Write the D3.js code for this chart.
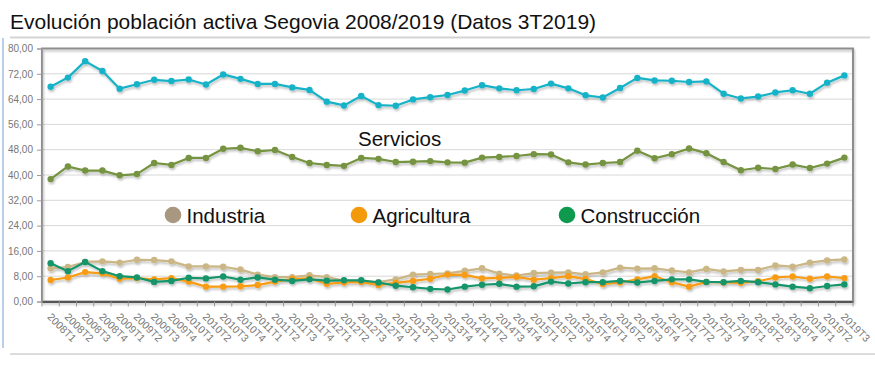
<!DOCTYPE html>
<html>
<head>
<meta charset="utf-8">
<script src="https://cdn.jsdelivr.net/npm/d3@7"></script>
<style>
  body { margin: 0; background: #fff; }
  svg { display: block; font-family: "Liberation Sans", Arial, sans-serif; }
</style>
</head>
<body>
<div id="chart"></div>
<script>
// años y trimestres (2008T1 .. 2019T3)
const years = d3.range(2008, 2020);
const quarterNames = ["T1", "T2", "T3", "T4"];
const quarters = years.flatMap(y => quarterNames.map(t => y + t)).slice(0, 47);

// valores (miles de personas)
const total = [67.9, 70.8, 76.0, 72.9, 67.3, 68.7, 70.1, 69.7, 70.2, 68.6,
  71.8, 70.4, 68.8, 68.8, 67.7, 66.9, 63.2, 62.0, 65.0, 62.1,
  61.9, 63.9, 64.6, 65.3, 66.7, 68.4, 67.4, 66.8, 67.2, 68.9,
  67.4, 65.2, 64.5, 67.5, 70.7, 69.9, 69.8, 69.4, 69.6, 65.7,
  64.2, 64.8, 66.1, 66.8, 65.7, 69.2, 71.5];
const servicios = [38.7, 42.7, 41.4, 41.4, 39.9, 40.3, 43.8, 43.2, 45.4, 45.4,
  48.3, 48.6, 47.5, 47.9, 45.7, 43.8, 43.2, 42.9, 45.4, 45.1,
  44.1, 44.2, 44.4, 44.0, 43.9, 45.5, 45.7, 46.0, 46.6, 46.5,
  44.0, 43.3, 43.8, 44.1, 47.7, 45.3, 46.6, 48.4, 46.9, 44.1,
  41.5, 42.3, 41.9, 43.3, 42.2, 43.6, 45.5];
const industria = [10.5, 10.9, 12.5, 12.7, 12.3, 13.2, 13.1, 12.7, 11.1, 11.1,
  11.0, 10.1, 8.5, 7.7, 7.7, 8.3, 7.7, 6.6, 6.5, 6.1,
  7.0, 8.5, 8.7, 8.9, 9.7, 10.5, 8.8, 8.2, 9.0, 9.1,
  9.2, 8.6, 9.2, 10.7, 10.4, 10.5, 9.8, 9.2, 10.3, 9.5,
  10.0, 10.0, 11.4, 11.0, 12.3, 13.0, 13.3];
const agricultura = [6.8, 7.6, 9.3, 8.9, 7.2, 7.4, 7.0, 7.4, 6.3, 4.7,
  4.7, 4.8, 5.2, 6.3, 7.1, 7.3, 5.6, 6.0, 6.2, 5.2,
  5.9, 6.5, 7.2, 8.5, 8.4, 7.3, 7.5, 7.8, 6.9, 7.4,
  8.0, 7.1, 5.5, 6.0, 7.0, 8.0, 6.1, 4.7, 6.2, 6.0,
  5.9, 6.4, 7.6, 7.9, 7.2, 7.9, 7.4];
const construccion = [12.1, 9.6, 12.5, 9.6, 8.0, 7.6, 6.2, 6.5, 7.5, 7.3,
  7.9, 6.9, 7.6, 6.9, 6.5, 7.0, 6.6, 6.7, 6.7, 6.0,
  5.0, 4.5, 4.0, 3.8, 4.7, 5.3, 5.6, 4.7, 4.8, 6.3,
  5.7, 6.1, 6.1, 6.5, 6.0, 6.5, 7.0, 7.0, 6.2, 6.1,
  6.5, 6.1, 5.4, 4.7, 4.2, 4.9, 5.4];

const yTicks = d3.range(0, 81, 8);

const series = [
  { name: "Total", values: total, color: "#17b3c8" },
  { name: "Servicios", values: servicios, color: "#74933f" },
  { name: "Industria", values: industria, color: "#cbb686" },
  { name: "Agricultura", values: agricultura, color: "#f89c14" },
  { name: "Construcción", values: construccion, color: "#15946a" }
];

const legend = [
  { name: "Industria", color: "#a89880", x: 173, y: 215 },
  { name: "Agricultura", color: "#f39a0a", x: 359, y: 215 },
  { name: "Construcción", color: "#0d9a4e", x: 567, y: 215 }
];

const width = 875, height = 371;
const plotLeft = 42, plotRight = 853, plotTop = 48.5, plotBottom = 301.5;

const svg = d3.select("#chart").append("svg")
  .attr("width", width)
  .attr("height", height);

const defs = svg.append("defs");
defs.append("filter").attr("id", "shadow")
  .attr("x", "-5%").attr("y", "-20%").attr("width", "110%").attr("height", "140%")
  .append("feDropShadow")
  .attr("dx", 1).attr("dy", 2).attr("stdDeviation", 1)
  .attr("flood-color", "#000").attr("flood-opacity", 0.25);

// marco de la página
svg.append("rect").attr("x", 2).attr("y", 38).attr("width", 2).attr("height", 310)
  .attr("fill", "#b9cfe9");
svg.append("line").attr("x1", 10).attr("x2", 870).attr("y1", 37.5).attr("y2", 37.5)
  .attr("stroke", "#d4d4d4").attr("stroke-width", 2);
svg.append("line").attr("x1", 10).attr("x2", 875).attr("y1", 354).attr("y2", 354)
  .attr("stroke", "#dcdcdc").attr("stroke-width", 2);

svg.append("text")
  .attr("x", 10).attr("y", 29)
  .style("font-size", "21px")
  .style("fill", "#111")
  .text("Evolución población activa Segovia 2008/2019 (Datos 3T2019)");

const x = d3.scaleBand().domain(quarters).range([plotLeft, plotRight]);
const y = d3.scaleLinear().domain([0, 80]).range([plotBottom, plotTop]);
const cx = q => x(q) + x.bandwidth() / 2;

// rejilla
svg.append("g").selectAll("line")
  .data(yTicks.filter(d => d > 0 && d < 80))
  .join("line")
  .attr("x1", plotLeft).attr("x2", plotRight)
  .attr("y1", d => y(d)).attr("y2", d => y(d))
  .attr("stroke", "#d8d8d8");

// caja del área de trazado
svg.append("rect")
  .attr("x", plotLeft).attr("y", plotTop)
  .attr("width", plotRight - plotLeft).attr("height", plotBottom - plotTop)
  .attr("fill", "none")
  .attr("stroke", "#8e8e8e").attr("stroke-width", 2)
  .attr("filter", "url(#shadow)");

// eje Y
const yAxis = svg.append("g")
  .attr("transform", `translate(${plotLeft},0)`)
  .call(d3.axisLeft(y).tickValues(yTicks).tickSize(5).tickPadding(4)
    .tickFormat(d => d.toFixed(2).replace(".", ",")));
yAxis.select(".domain").attr("stroke", "#9a9a9a");
yAxis.selectAll(".tick line").attr("stroke", "#9a9a9a");
yAxis.selectAll("text").style("font-size", "10px").style("fill", "#777")
  .style("font-family", "'Liberation Sans', Arial, sans-serif");

// eje X
const xAxis = svg.append("g")
  .attr("transform", `translate(0,${plotBottom})`)
  .call(d3.axisBottom(x).tickSize(0).tickPadding(0));
xAxis.select(".domain").attr("stroke", "#555").attr("stroke-width", 2);
xAxis.selectAll(".tick text")
  .attr("text-anchor", "start")
  .attr("dy", null)
  .attr("y", 0)
  .attr("transform", "translate(-4,16) rotate(45)")
  .style("font-size", "10.5px").style("fill", "#777")
  .style("font-family", "'Liberation Sans', Arial, sans-serif");
svg.append("g").selectAll("line")
  .data(quarters.map(q => x(q)).concat([plotRight]))
  .join("line")
  .attr("x1", d => d).attr("x2", d => d)
  .attr("y1", plotBottom).attr("y2", plotBottom + 5)
  .attr("stroke", "#999");

// líneas
const line = d3.line().x((d, i) => cx(quarters[i])).y(d => y(d));
const g = svg.append("g").attr("filter", "url(#shadow)");
series.forEach(s => {
  g.append("path")
    .datum(s.values)
    .attr("d", line)
    .attr("fill", "none")
    .attr("stroke", s.color)
    .attr("stroke-width", 2.2)
    .attr("stroke-linejoin", "round");
  g.append("g").selectAll("circle")
    .data(s.values)
    .join("circle")
    .attr("cx", (d, i) => cx(quarters[i]))
    .attr("cy", d => y(d))
    .attr("r", 3.2)
    .attr("fill", s.color);
});

// leyenda
svg.append("text")
  .attr("x", 358).attr("y", 145.5)
  .style("font-size", "20.5px").style("fill", "#111")
  .text("Servicios");

const lg = svg.append("g").selectAll("g").data(legend).join("g");
lg.append("circle")
  .attr("cx", d => d.x).attr("cy", d => d.y).attr("r", 8.3)
  .attr("fill", d => d.color);
lg.append("text")
  .attr("x", d => d.x + 13.5).attr("y", d => d.y + 7.7)
  .style("font-size", "20.5px").style("fill", "#111")
  .text(d => d.name);
</script>
</body>
</html>
